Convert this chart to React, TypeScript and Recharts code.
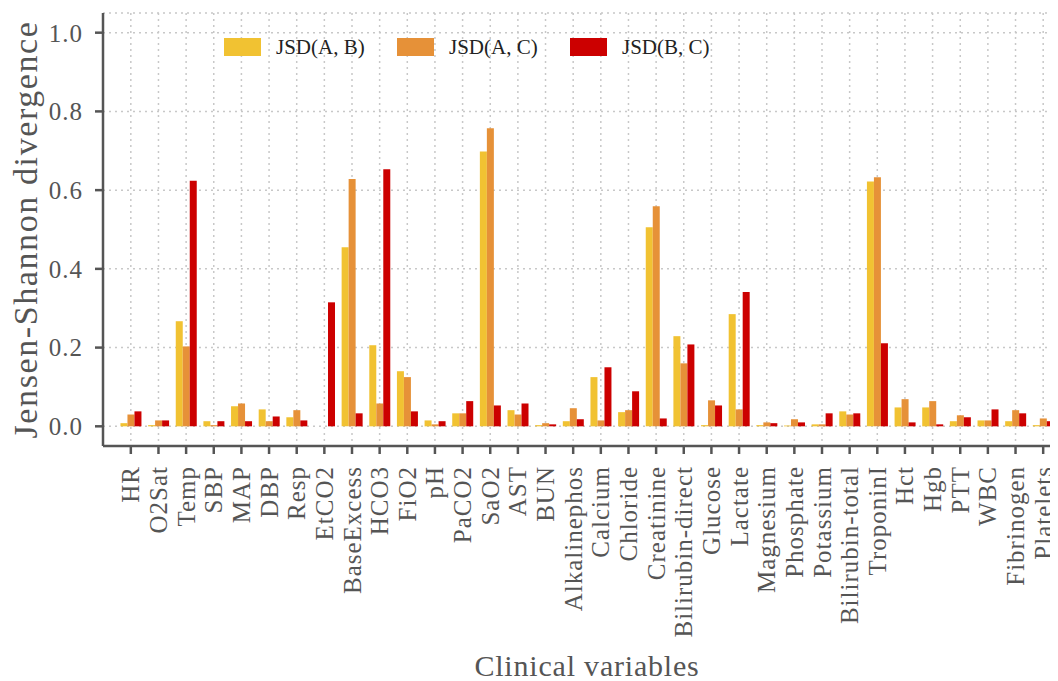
import { BarChart, Bar, XAxis, YAxis, CartesianGrid } from "recharts";

const variables = [
  "HR", "O2Sat", "Temp", "SBP", "MAP", "DBP", "Resp", "EtCO2", "BaseExcess",
  "HCO3", "FiO2", "pH", "PaCO2", "SaO2", "AST", "BUN", "Alkalinephos",
  "Calcium", "Chloride", "Creatinine", "Bilirubin-direct", "Glucose",
  "Lactate", "Magnesium", "Phosphate", "Potassium", "Bilirubin-total",
  "TroponinI", "Hct", "Hgb", "PTT", "WBC", "Fibrinogen", "Platelets",
];

const jsdAB = [
  0.008, 0.003, 0.267, 0.013, 0.051, 0.043, 0.023, 0.0, 0.455,
  0.206, 0.140, 0.015, 0.033, 0.698, 0.041, 0.003, 0.013,
  0.125, 0.036, 0.506, 0.229, 0.003,
  0.285, 0.003, 0.002, 0.005, 0.038,
  0.622, 0.048, 0.048, 0.013, 0.015, 0.013, 0.003,
];

const jsdAC = [
  0.030, 0.015, 0.203, 0.003, 0.058, 0.013, 0.041, 0.0, 0.628,
  0.058, 0.125, 0.005, 0.033, 0.757, 0.030, 0.008, 0.046,
  0.015, 0.041, 0.559, 0.160, 0.066,
  0.043, 0.010, 0.018, 0.005, 0.030,
  0.633, 0.069, 0.064, 0.028, 0.015, 0.041, 0.020,
];

const jsdBC = [
  0.038, 0.015, 0.624, 0.013, 0.013, 0.025, 0.015, 0.315, 0.033,
  0.653, 0.038, 0.013, 0.064, 0.053, 0.058, 0.005, 0.018,
  0.150, 0.089, 0.020, 0.208, 0.053,
  0.341, 0.008, 0.010, 0.033, 0.033,
  0.211, 0.010, 0.005, 0.023, 0.043, 0.033, 0.013,
];

const yTicks = [0, 0.2, 0.4, 0.6, 0.8, 1.0];

const SERIES = [
  { key: "ab", name: "JSD(A, B)", color: "#f1c232" },
  { key: "ac", name: "JSD(A, C)", color: "#e69138" },
  { key: "bc", name: "JSD(B, C)", color: "#cc0000" },
];

const data = variables.map((name, i) => ({
  name,
  ab: jsdAB[i],
  ac: jsdAC[i],
  bc: jsdBC[i],
}));

const FONT = '"Liberation Serif", "Times New Roman", serif';
const INK = "#555555";

const RotatedTick = (props: any) => {
  const { x, y, payload } = props;
  return (
    <text
      x={x}
      y={y}
      transform={`rotate(-90, ${x}, ${y})`}
      textAnchor="end"
      dominantBaseline="central"
      fontFamily={FONT}
      fontSize={25}
      letterSpacing={1}
      fill={INK}
    >
      {payload.value}
    </text>
  );
};

// legend drawn as an overlay so it doesn't eat plot height
const ChartLegend = () => (
  <div
    style={{
      position: "absolute",
      top: 27,
      left: 216,
      display: "flex",
      fontFamily: FONT,
      fontSize: 21,
      lineHeight: "24px",
      color: "#222",
    }}
  >
    {SERIES.map((s) => (
      <div key={s.key} style={{ display: "flex", alignItems: "center", width: 173 }}>
        <span style={{ display: "inline-block", width: 37, height: 18, background: s.color }} />
        <span style={{ marginLeft: 15 }}>{s.name}</span>
      </div>
    ))}
  </div>
);

export default function App() {
  return (
    <div style={{ position: "relative", width: 1050, height: 673, overflow: "hidden" }}>
      <BarChart
        width={1063}
        height={673}
        data={data}
        margin={{ top: 5, right: 0, bottom: 0, left: 0 }}
        barCategoryGap="12.5%"
        barGap={0}
      >
        <CartesianGrid
          stroke="#c8c8c8"
          strokeDasharray="2 4"
          strokeWidth={1.5}
        />
        <CartesianGrid
          horizontalValues={[1.05]}
          vertical={false}
          stroke={INK}
          strokeWidth={2.5}
        />
        <XAxis
          dataKey="name"
          interval={0}
          padding={{ left: 14, right: 14 }}
          height={235}
          tick={<RotatedTick />}
          tickSize={8}
          tickMargin={12}
          axisLine={{ stroke: INK, strokeWidth: 2.5 }}
          tickLine={{ stroke: INK, strokeWidth: 2.5 }}
          label={{
            content: ({ viewBox }: any) => (
              <text
                x={viewBox.x + viewBox.width / 2}
                y={viewBox.y + viewBox.height - 5}
                textAnchor="middle"
                fontFamily={FONT}
                fontSize={30}
                letterSpacing={0.8}
                fill={INK}
              >
                Clinical variables
              </text>
            ),
          }}
        />
        <YAxis
          domain={[-0.05, 1.05]}
          ticks={yTicks}
          width={95}
          tickSize={8}
          tickMargin={12}
          tickFormatter={(v: number) => v.toFixed(1)}
          tick={{ fontFamily: FONT, fontSize: 25, letterSpacing: 1, fill: INK }}
          axisLine={{ stroke: INK, strokeWidth: 2.5 }}
          tickLine={{ stroke: INK, strokeWidth: 2.5 }}
          label={{
            content: ({ viewBox }: any) => {
              const cx = viewBox.x + 17;
              const cy = viewBox.y + viewBox.height / 2;
              return (
                <text
                  x={cx}
                  y={cy}
                  transform={`rotate(-90, ${cx}, ${cy})`}
                  textAnchor="middle"
                  dominantBaseline="central"
                  fontFamily={FONT}
                  fontSize={34}
                  letterSpacing={1.6}
                  fill={INK}
                >
                  Jensen-Shannon divergence
                </text>
              );
            },
          }}
        />
        {SERIES.map((s) => (
          <Bar
            key={s.key}
            dataKey={s.key}
            name={s.name}
            fill={s.color}
            isAnimationActive={false}
          />
        ))}
      </BarChart>
      <ChartLegend />
    </div>
  );
}
